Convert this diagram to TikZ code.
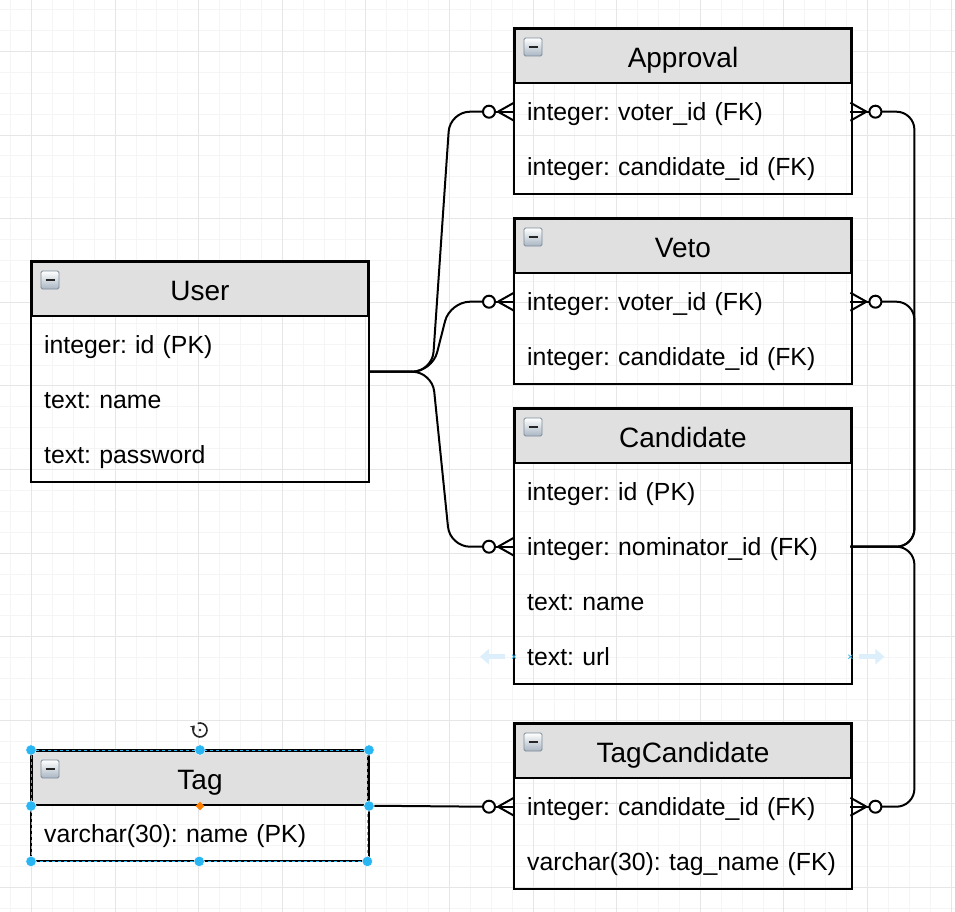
\documentclass[tikz,border=0pt]{standalone}
\usepackage{fontspec}
\setmainfont{Liberation Sans}
\usetikzlibrary{calc,arrows.meta,shapes.geometric}
\definecolor{hdrgray}{HTML}{E0E0E0}
\definecolor{gridminor}{HTML}{F5F5F5}
\definecolor{gridmajor}{HTML}{E6E6E6}
\definecolor{selblue}{HTML}{29B6F2}
\definecolor{hoverblue}{HTML}{DCEFFB}
\definecolor{iconedge}{HTML}{7E8C99}
\definecolor{iconbot}{HTML}{A9B6C3}
\newcommand\titlefnt{\fontsize{28}{32}\selectfont}
\newcommand\bodyfnt{\fontsize{24.8}{29}\selectfont}
\frenchspacing
\tikzset{
  hdr/.style={draw=black, line width=2pt, fill=hdrgray, minimum width=336pt, minimum height=54pt, inner sep=0pt, anchor=north west, font=\titlefnt, text height=25pt, text depth=2pt},
  rowbox/.style={minimum width=336pt, minimum height=55pt, inner sep=0pt, text width=310pt, align=left, anchor=north west, font=\bodyfnt, text height=19pt, text depth=2pt},
  frame/.style={draw=black, line width=2pt},
  conn/.style={draw=black, line width=2pt},
  handle/.style={circle, fill=selblue, draw=white, line width=0.5pt, inner sep=0pt, minimum size=10.5pt},
}
\newcommand\mkentity[5]{%
  \node[hdr] (#1) at #2 {#3};
  \foreach \r [count=\k] in {#4} {
    \node[rowbox] (#1-\k) at ($(#1.south west)+(0,{55*(\k-1)})$) {\r};
  }
  \draw[frame] (#1.north west) rectangle ($(#1.south east)+(0,{55*#5})$);
  \draw[draw=iconedge, line width=0.8pt, top color=white, bottom color=iconbot, rounded corners=1.5pt] ($(#1.north west)+(10,10)$) rectangle ++(18,18);
  \draw[line width=2pt, black!85] ($(#1.north west)+(14.5,19)$) -- ++(9,0);
}
\newcommand\crowL[1]{%
  \draw[conn] ($(#1.west)+(-19,0)$) -- (#1.west);
  \draw[conn] ($(#1.west)+(-16,0)$) -- ($(#1.west)+(0,-9)$);
  \draw[conn] ($(#1.west)+(-16,0)$) -- ($(#1.west)+(0,9)$);
  \draw[conn, fill=white] ($(#1.west)+(-25,0)$) circle (6);
}
\newcommand\crowR[1]{%
  \draw[conn] ($(#1.east)+(19,0)$) -- (#1.east);
  \draw[conn] ($(#1.east)+(16,0)$) -- ($(#1.east)+(0,-9)$);
  \draw[conn] ($(#1.east)+(16,0)$) -- ($(#1.east)+(0,9)$);
  \draw[conn, fill=white] ($(#1.east)+(25,0)$) circle (6);
}
\begin{document}
\begin{tikzpicture}[x=1pt,y=-1pt]
\useasboundingbox (0,0) rectangle (955,912);
\fill[white] (0,0) rectangle (955,912);
\begin{scope}
  \clip (0,0) rectangle (955,912);
  \foreach \i in {-2,...,46} {\draw[gridminor, line width=1pt] ({31.5+20.9*\i},0) -- ++(0,912);}
  \foreach \j in {-3,...,44} {\draw[gridminor, line width=1pt] (0,{51.5+20.9*\j}) -- ++(955,0);}
  \foreach \i in {-1,...,11} {\draw[gridmajor, line width=1pt] ({31.5+83.6*\i},0) -- ++(0,912);}
  \foreach \j in {-1,...,11} {\draw[gridmajor, line width=1pt] (0,{51.5+83.6*\j}) -- ++(955,0);}
\end{scope}

\mkentity{appr}{(514,28)}{Approval}{{integer: voter\_id (FK)},{integer: candidate\_id (FK)}}{2}
\mkentity{veto}{(514,218)}{Veto}{{integer: voter\_id (FK)},{integer: candidate\_id (FK)}}{2}
\mkentity{cand}{(514,408)}{Candidate}{{integer: id (PK)},{integer: nominator\_id (FK)},{text: name},{text: url}}{4}
\mkentity{tc}{(514,723)}{TagCandidate}{{integer: candidate\_id (FK)},{varchar(30): tag\_name (FK)}}{2}
\mkentity{user}{(31,261)}{User}{{integer: id (PK)},{text: name},{text: password}}{3}
\mkentity{tag}{(31,750)}{Tag}{{varchar(30): name (PK)}}{1}

\coordinate (userR) at ($(user.north east)!0.5!(user-3.south east)$);
\coordinate (tagR) at ($(tag.north east)!0.5!(tag-1.south east)$);

\foreach \t in {appr-1,veto-1,cand-2} {
  \draw[conn, rounded corners=20pt] (userR) -- ++(64,0) -- ($(\t.west)+(-64,0)$) -- ($(\t.west)+(-31,0)$);
}
\foreach \t in {appr-1,veto-1,tc-1} {
  \draw[conn, rounded corners=18pt] (cand-2.east) -- ++(64,0) -- ($(\t.east)+(64,0)$) -- ($(\t.east)+(31,0)$);
}
\draw[conn] (tagR) -- ($(tc-1.west)+(-31,0)$);

\foreach \t in {appr-1,veto-1,cand-2,tc-1} {\crowL{\t}}
\foreach \t in {appr-1,veto-1,tc-1} {\crowR{\t}}

% hover hints on Candidate
\draw[hoverblue, line width=5pt, -{Triangle[length=9pt,width=15pt]}] ($(cand-4.west)+(-9,0)$) -- ($(cand-4.west)+(-34,0)$);
\draw[hoverblue, line width=5pt, -{Triangle[length=9pt,width=15pt]}] ($(cand-4.east)+(9,0)$) -- ($(cand-4.east)+(34,0)$);
\draw[selblue, line width=0.7pt] ($(cand-4.west)+(-2,-2)$) -- ++(4,4) ($(cand-4.west)+(-2,2)$) -- ++(4,-4);
\draw[selblue, line width=0.7pt] ($(cand-4.east)+(-2,-2)$) -- ++(4,4) ($(cand-4.east)+(-2,2)$) -- ++(4,-4);

% selection of Tag
\draw[selblue, dashed, line width=1pt] (tag.north west) rectangle (tag-1.south east);
\node[handle] (h1) at (tag.north west) {};
\node[handle] (h2) at (tag.north) {};
\node[handle] (h3) at (tag.north east) {};
\node[handle] (h4) at (tag.south west) {};
\node[handle] (h5) at (tag.south east) {};
\node[handle] (h6) at (tag-1.south west) {};
\node[handle] (h7) at (tag-1.south) {};
\node[handle] (h8) at (tag-1.south east) {};
\node[diamond, fill=orange, inner sep=0pt, minimum size=9pt] (hmid) at (tag.south) {};
\coordinate (rotc) at ($(tag.north)+(0,-20)$);
\draw[line width=1.6pt, black!85, -{Stealth[length=4pt,width=6pt]}] ($(rotc)+(-2.4,-6.6)$) arc[start angle=-110, end angle=220, radius=7];
\fill[black!85] (rotc) circle (1.3);
\end{tikzpicture}
\end{document}
